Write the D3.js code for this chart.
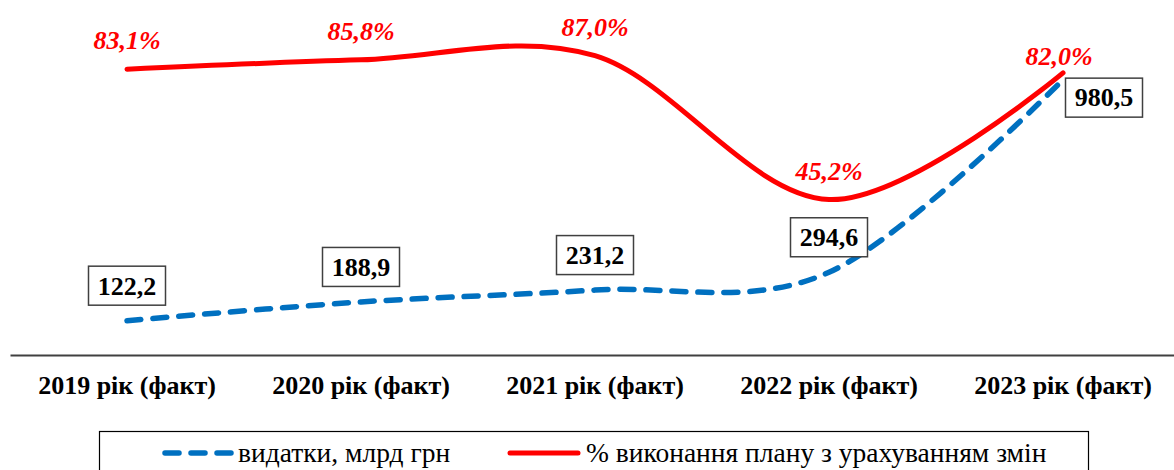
<!DOCTYPE html>
<html lang="uk">
  <head>
    <meta charset="utf-8">
    <title>Видатки та виконання плану</title>
    <style>
      body { margin: 0; background: #fff; }
      svg { display: block; }
      svg text { font-family: "Liberation Serif", "Times New Roman", Times, "DejaVu Serif", serif; }
      .cat text { font-size: 26px; font-weight: bold; fill: #000; }
      .pct { font-size: 26px; font-weight: bold; font-style: italic; fill: #ff0000; }
      .val { font-size: 26px; font-weight: bold; fill: #000; }
      .leg { font-size: 27.5px; fill: #000; }
    </style>
  </head>
  <body>
    <div id="chart"></div>
    <script src="https://d3js.org/d3.v7.min.js"></script>
    <script>
      const years = ["2019 рік (факт)", "2020 рік (факт)", "2021 рік (факт)", "2022 рік (факт)", "2023 рік (факт)"];
      const spending = [122.2, 188.9, 231.2, 294.6, 980.5];   // видатки, млрд грн
      const planPct = [83.1, 85.8, 87.0, 45.2, 82.0];         // % виконання плану
      const seriesNames = ["видатки, млрд грн", "% виконання плану з урахуванням змін"];

      const width = 1174, height = 470;
      const blue = "#0070c0", red = "#ff0000";
      const serif = "'Liberation Serif', 'Times New Roman', Times, 'DejaVu Serif', serif";
      const fmt = v => d3.format(".1f")(v).replace(".", ",");

      const svg = d3.select("#chart").append("svg")
        .attr("width", width).attr("height", height)
        .attr("font-family", serif);

      const x = d3.scaleBand().domain(years).range([10, 1180]);
      const cx = d => x(d) + x.bandwidth() / 2;
      const yVal = d3.scaleLinear().domain([0, 1200]).range([355, 18]);
      const yPct = d3.scaleLinear().domain([0, 100]).range([355, 11]);

      // category axis
      svg.append("g")
        .attr("class", "cat")
        .attr("transform", "translate(0,355)")
        .call(d3.axisBottom(x).tickSize(0).tickPadding(21))
        .attr("font-family", serif)
        .attr("font-size", 26)
        .call(g => g.select(".domain").attr("stroke", "#404040").attr("stroke-width", 2))
        .call(g => g.selectAll("text").attr("font-weight", "bold"));

      const spendPts = years.map((c, i) => [cx(c), yVal(spending[i])]);
      const pctPts = years.map((c, i) => [cx(c), yPct(planPct[i])]);
      const line = d3.line().curve(d3.curveCardinal.tension(0));

      svg.append("path")
        .attr("d", line(spendPts))
        .attr("fill", "none").attr("stroke", blue)
        .attr("stroke-width", 5.5)
        .attr("stroke-dasharray", "14 12")
        .attr("stroke-linecap", "round");

      svg.append("path")
        .attr("d", line(pctPts))
        .attr("fill", "none").attr("stroke", red)
        .attr("stroke-width", 5)
        .attr("stroke-linecap", "round");

      // percent labels
      svg.selectAll(".pct").data(planPct).join("text")
        .attr("class", "pct")
        .attr("x", (d, i) => pctPts[i][0] - (i === planPct.length - 1 ? 4 : 0))
        .attr("y", (d, i) => pctPts[i][1] - (i === planPct.length - 1 ? 8 : 20))
        .attr("text-anchor", "middle")
        .text(d => fmt(d) + "%");

      // boxed value labels
      const last = spending.length - 1;
      const vl = svg.selectAll(".vlab").data(spending).join("g")
        .attr("class", "vlab")
        .attr("transform", (d, i) => {
          const [px, py] = spendPts[i];
          return i === last ? `translate(${px + 41},${py + 18})` : `translate(${px},${py - 35})`;
        });
      vl.append("rect")
        .attr("x", -38.5).attr("y", -19.5)
        .attr("width", 77).attr("height", 39)
        .attr("fill", "#fff").attr("stroke", "#404040").attr("stroke-width", 1.5);
      vl.append("text")
        .attr("class", "val")
        .attr("text-anchor", "middle")
        .attr("dy", "0.34em")
        .text(d => fmt(d));

      // legend
      svg.append("rect")
        .attr("x", 99.5).attr("y", 431.5)
        .attr("width", 989).attr("height", 60)
        .attr("fill", "none").attr("stroke", "#000").attr("stroke-width", 1.2);

      svg.append("line")
        .attr("x1", 165).attr("x2", 233).attr("y1", 453).attr("y2", 453)
        .attr("stroke", blue).attr("stroke-width", 5.5)
        .attr("stroke-dasharray", "14 12").attr("stroke-linecap", "round");
      svg.append("text").attr("class", "leg")
        .attr("x", 238).attr("y", 462).text(seriesNames[0]);

      svg.append("line")
        .attr("x1", 510).attr("x2", 578).attr("y1", 453).attr("y2", 453)
        .attr("stroke", red).attr("stroke-width", 5).attr("stroke-linecap", "round");
      svg.append("text").attr("class", "leg")
        .attr("x", 586).attr("y", 462).text(seriesNames[1]);
    </script>
  </body>
</html>
